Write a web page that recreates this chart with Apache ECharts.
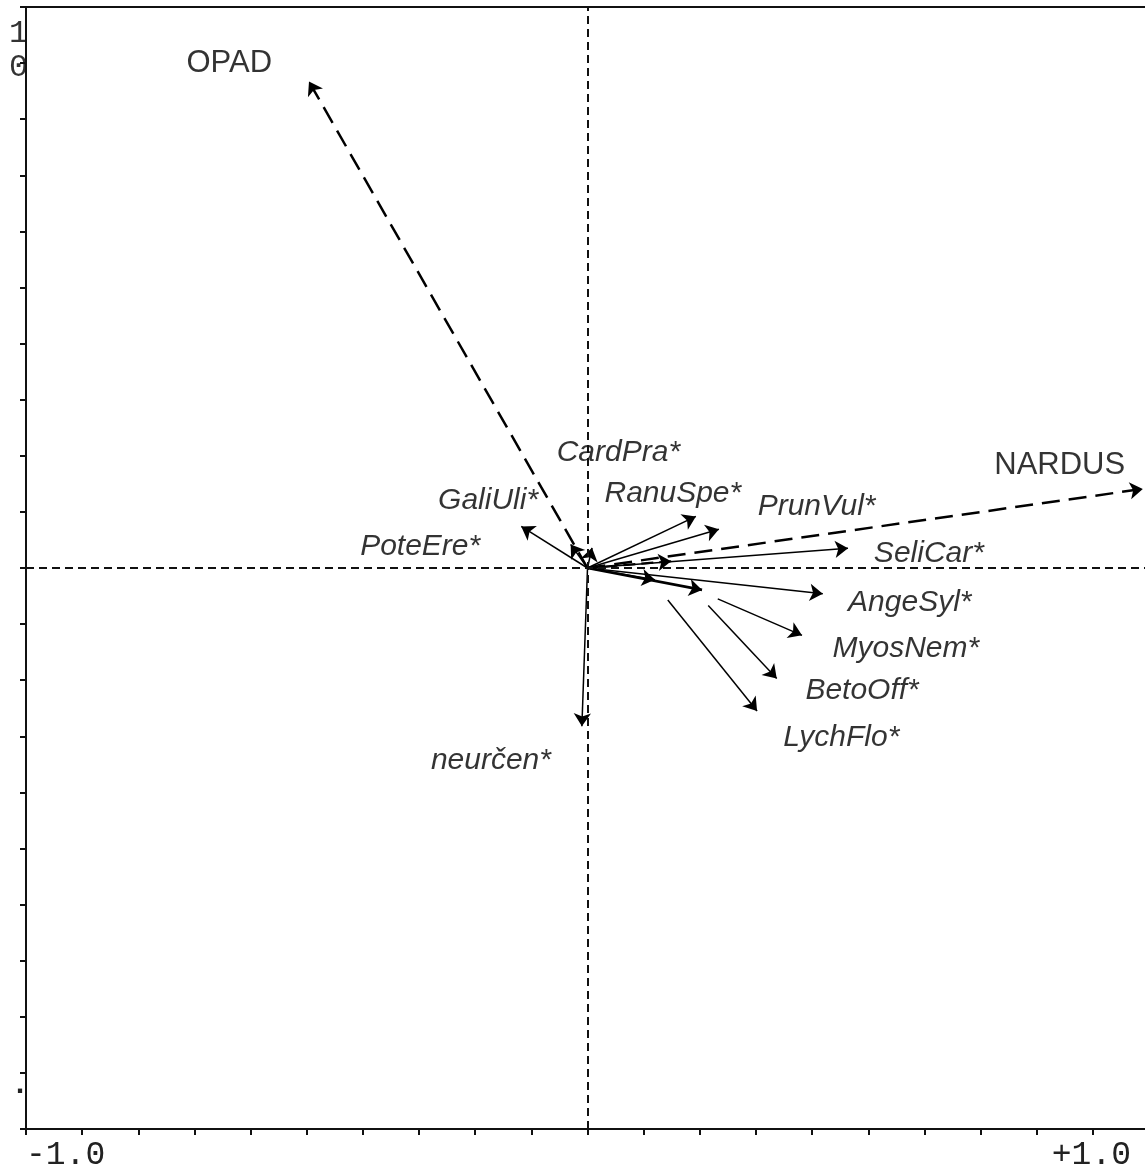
<!DOCTYPE html>
<html>
<head>
<meta charset="utf-8">
<script src="https://cdn.jsdelivr.net/npm/echarts@6/dist/echarts.min.js"></script>
<style>html,body{margin:0;padding:0;background:#fff;overflow:hidden}#c{width:1151px;height:1172px}</style>
</head>
<body>
<div id="c"></div>
<script>
// Arrow data (ordination scores): start and end points
const arrowKind   = ['env','env','envShort','sp','sp','sp','sp','sp','sp','sp','sp','spThick','sp','sp','sp','sp'];
const arrowStartX = [0, 0, 0, 0, 0, 0, 0, 0, 0, 0, 0, 0, 0.232, 0.215, 0.143, 0];
const arrowStartY = [0, 0, 0, 0, 0, 0, 0, 0, 0, 0, 0, 0, -0.055, -0.067, -0.057, 0];
const arrowEndX   = [-0.496, 0.989, 0.149, -0.118, -0.030, 0.008, 0.193, 0.234, 0.464, 0.419, 0.120, 0.204, 0.382, 0.337, 0.302, -0.010];
const arrowEndY   = [0.867, 0.141, 0.012, 0.074, 0.042, 0.036, 0.092, 0.069, 0.035, -0.046, -0.021, -0.039, -0.120, -0.197, -0.255, -0.282];

// Labels
const envLabels = ['OPAD', 'NARDUS'];
const envLabelX = [-0.638, 0.841];
const envLabelY = [0.900, 0.183];
const spLabels = ['CardPra*','GaliUli*','RanuSpe*','PrunVul*','PoteEre*','SeliCar*','AngeSyl*','MyosNem*','BetoOff*','LychFlo*','neurčen*'];
const spLabelX = [0.055, -0.177, 0.152, 0.408, -0.298, 0.608, 0.574, 0.567, 0.489, 0.452, -0.172];
const spLabelY = [0.205, 0.120, 0.132, 0.110, 0.038, 0.026, -0.061, -0.144, -0.219, -0.302, -0.343];

const axisMin = -1.0, axisMax = 1.0, tickStep = 0.1;

const arrowData = arrowKind.map((k, i) => {
  let ls;
  if (k === 'env') ls = {type: [18, 9], width: 2.5, color: '#000', opacity: 1};
  else if (k === 'envShort') ls = {type: [12, 6], width: 2.2, color: '#000', opacity: 1};
  else if (k === 'spThick') ls = {type: 'solid', width: 2.6, color: '#000', opacity: 1};
  else ls = {type: 'solid', width: 1.5, color: '#000', opacity: 1};
  return {coords: [[arrowStartX[i], arrowStartY[i]], [arrowEndX[i], arrowEndY[i]]], lineStyle: ls};
});

const chart = echarts.init(document.getElementById('c'));
chart.setOption({
  animation: false,
  backgroundColor: '#fff',
  grid: {left: 26, right: 2, top: 7, bottom: 37, show: true, borderColor: '#111', borderWidth: 2, containLabel: false},
  xAxis: {
    type: 'value', min: axisMin, max: axisMax, interval: tickStep,
    axisLine: {show: true, onZero: false, lineStyle: {color: '#111', width: 2}},
    axisTick: {show: true, inside: false, length: 6, lineStyle: {color: '#111', width: 2}},
    splitLine: {show: false},
    axisLabel: {
      show: true, margin: 10,
      fontFamily: 'Liberation Mono', fontSize: 33, color: '#222',
      formatter: v => (Math.abs(v + 1) < 1e-9 ? '-1.0' : (Math.abs(v - 1) < 1e-9 ? '+1.0' : '')),
      alignMinLabel: 'left', alignMaxLabel: 'right', padding: [0, 18, 0, 0]
    }
  },
  yAxis: {
    type: 'value', min: axisMin, max: axisMax, interval: tickStep,
    axisLine: {show: true, onZero: false, lineStyle: {color: '#111', width: 2}},
    axisTick: {show: true, inside: false, length: 6, lineStyle: {color: '#111', width: 2}},
    splitLine: {show: false},
    axisLabel: {show: false}
  },
  graphic: [
    {type: 'text', left: 9, top: 17, style: {text: '1\n0', font: '32px "Liberation Mono"', fill: '#333', lineHeight: 34}},
    {type: 'text', left: 11, top: 1070, style: {text: '.', font: 'bold 30px "Liberation Mono"', fill: '#222'}}
  ],
  series: [
    {
      type: 'lines', coordinateSystem: 'cartesian2d', silent: true, z: 3,
      symbol: ['none', 'arrow'], symbolSize: 13,
      lineStyle: {opacity: 1, color: '#000'},
      data: arrowData,
      markLine: {
        silent: true, symbol: ['none', 'none'], label: {show: false},
        lineStyle: {type: [8, 5], width: 2, color: '#111', opacity: 1},
        data: [{xAxis: 0}, {yAxis: 0}]
      }
    },
    {
      type: 'scatter', symbolSize: 0, silent: true, z: 4,
      data: envLabels.map((n, i) => [envLabelX[i], envLabelY[i], n]),
      label: {show: true, position: 'inside', formatter: p => p.data[2],
        fontFamily: 'Liberation Sans', fontSize: 31, color: '#000'}
    },
    {
      type: 'scatter', symbolSize: 0, silent: true, z: 4,
      data: spLabels.map((n, i) => [spLabelX[i], spLabelY[i], n]),
      label: {show: true, position: 'inside', formatter: p => p.data[2],
        fontFamily: 'Liberation Sans', fontStyle: 'italic', fontSize: 30, color: '#000'}
    }
  ]
});
</script>
</body>
</html>
